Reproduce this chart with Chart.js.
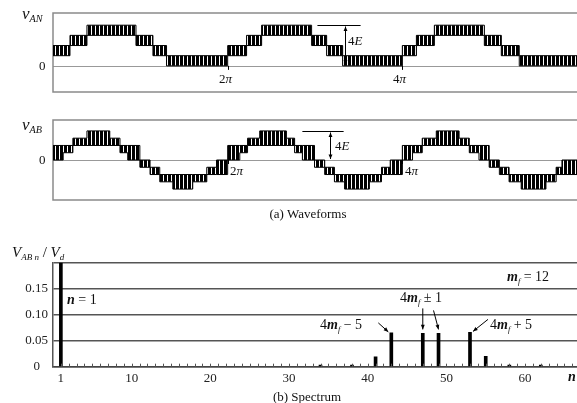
<!DOCTYPE html>
<html>
<head>
<meta charset="utf-8">
<script src="https://cdn.jsdelivr.net/npm/chart.js"></script>
<style>
  html, body { margin: 0; padding: 0; background: #fff; }
  body { position: relative; width: 577px; height: 403px; overflow: hidden; }
  canvas { position: absolute; left: 0; }
  .note { position: absolute; line-height: 1; white-space: nowrap; font-family: "Liberation Serif", serif; color: #111; }
  .note sub { font-size: 0.6em; vertical-align: -0.3em; }
</style>
</head>
<body>
<canvas id="an" width="577" height="100" style="top:0px"></canvas>
<canvas id="ab" width="577" height="100" style="top:110px"></canvas>
<canvas id="spec" width="577" height="178" style="top:225px"></canvas>
<script>
// v_AN: band start angles (deg), and the two levels (in E) it chops between
const anEdges = [0, 35, 70, 171, 206, 234,
                 360, 399, 430, 533, 564, 597,
                 720, 749, 786, 889, 924, 961, 1080];
const anLow  = [1, 2, 3, 2, 1, 0,  1, 2, 3, 2, 1, 0,  1, 2, 3, 2, 1, 0];
const anHigh = [2, 3, 4, 3, 2, 1,  2, 3, 4, 3, 2, 1,  2, 3, 4, 3, 2, 1];

// v_AB, same idea
const abEdges = [0, 21, 41, 70, 117, 138, 154, 179, 200, 220, 247, 288, 317, 337,
                 360, 385, 401, 426, 481, 498, 514, 539, 560, 580, 601, 652, 677, 695,
                 720, 741, 761, 790, 837, 858, 878, 899, 920, 940, 965, 1016, 1037, 1049, 1080];
const abLow  = [0, 1, 2, 2, 2, 1, 0, -1, -2, -3, -4, -3, -2, -2,
                0, 1, 2, 2, 2, 1, 0, -1, -2, -3, -4, -3, -2, -2,
                0, 1, 2, 2, 2, 1, 0, -1, -2, -3, -4, -3, -2, -2];
const abHigh = [2, 2, 3, 4, 3, 2, 2, 0, -1, -2, -2, -2, -1, 0,
                2, 2, 3, 4, 3, 2, 2, 0, -1, -2, -2, -2, -1, 0,
                2, 2, 3, 4, 3, 2, 2, 0, -1, -2, -2, -2, -1, 0];

// spectrum
const harmonicN   = [1, 34, 38, 41, 43, 47, 49, 53, 55, 58, 62];
const harmonicMag = [0.2, 0.003, 0.003, 0.019, 0.065, 0.064, 0.064, 0.066, 0.02, 0.003, 0.003];
const nTicks   = [1, 10, 20, 30, 40, 50, 60];
const magTicks = [0, 0.05, 0.1, 0.15, 0.2];

const serif = "'Liberation Serif', 'Times New Roman', serif";

function stripes() {
  const c = document.createElement('canvas');
  c.width = 4; c.height = 4;
  const g = c.getContext('2d');
  g.fillStyle = '#000';
  g.fillRect(0, 0, 3, 4);
  return g.createPattern(c, 'repeat');
}

function steps(edges, levels) {
  const pts = levels.map((v, i) => ({ x: edges[i], y: v }));
  pts.push({ x: edges[edges.length - 1], y: levels[levels.length - 1] });
  return pts;
}

function arrow(ctx, x1, y1, x2, y2, both) {
  const a = Math.atan2(y2 - y1, x2 - x1), h = 5;
  ctx.beginPath();
  ctx.moveTo(x1, y1); ctx.lineTo(x2, y2);
  ctx.stroke();
  const head = (x, y, ang) => {
    ctx.beginPath();
    ctx.moveTo(x, y);
    ctx.lineTo(x - h * Math.cos(ang - 0.4), y - h * Math.sin(ang - 0.4));
    ctx.lineTo(x - h * Math.cos(ang + 0.4), y - h * Math.sin(ang + 0.4));
    ctx.closePath();
    ctx.fill();
  };
  head(x2, y2, a);
  if (both) head(x1, y1, a + Math.PI);
}

// frame, zero line, 2pi/4pi ticks and the 4E marker
const wavePlugin = {
  id: 'wave',
  beforeDatasetsDraw(chart, args, opts) {
    const { ctx, chartArea: a, scales: { x, y } } = chart;
    ctx.save();
    ctx.strokeStyle = '#999';
    ctx.lineWidth = 1;
    const y0 = Math.round(y.getPixelForValue(0)) + 0.5;
    ctx.beginPath(); ctx.moveTo(a.left, y0); ctx.lineTo(a.right, y0); ctx.stroke();
    ctx.strokeStyle = '#8a8a8a';
    ctx.lineWidth = 1.5;
    ctx.beginPath();
    ctx.moveTo(a.right + 2, a.top); ctx.lineTo(a.left, a.top);
    ctx.lineTo(a.left, a.bottom); ctx.lineTo(a.right + 2, a.bottom);
    ctx.stroke();
    ctx.restore();
  },
  afterDatasetsDraw(chart, args, opts) {
    const { ctx, scales: { x, y } } = chart;
    ctx.save();
    ctx.strokeStyle = '#000';
    ctx.fillStyle = '#000';
    ctx.lineWidth = 1;
    const y0 = y.getPixelForValue(0);
    [360, 720].forEach(d => {
      const px = Math.round(x.getPixelForValue(d)) + 0.5;
      ctx.beginPath(); ctx.moveTo(px, y0); ctx.lineTo(px, y0 + 4); ctx.stroke();
    });
    const yt = Math.round(y.getPixelForValue(4)) + 0.5;
    ctx.beginPath();
    ctx.moveTo(x.getPixelForValue(opts.mark[0]), yt);
    ctx.lineTo(x.getPixelForValue(opts.mark[1]), yt);
    ctx.stroke();
    const xa = Math.round(x.getPixelForValue(opts.mark[2])) + 0.5;
    arrow(ctx, xa, yt + 1, xa, y0 - 1, true);
    ctx.restore();
  }
};

function waveChart(id, edges, low, high, yMin, yMax, pad, mark) {
  const fillPat = stripes();
  return new Chart(document.getElementById(id), {
    type: 'line',
    data: {
      datasets: [
        { data: steps(edges, low), stepped: true, borderColor: '#000', borderWidth: 1,
          pointRadius: 0, fill: false },
        { data: steps(edges, high), stepped: true, borderColor: '#000', borderWidth: 1,
          pointRadius: 0, fill: '-1', backgroundColor: fillPat }
      ]
    },
    options: {
      responsive: false,
      animation: false,
      layout: { padding: pad },
      plugins: { legend: { display: false }, tooltip: { enabled: false }, wave: { mark } },
      scales: {
        x: { type: 'linear', min: 0, max: 1080, display: false },
        y: { min: yMin, max: yMax, display: false }
      }
    },
    plugins: [wavePlugin]
  });
}

waveChart('an', anEdges, anLow, anHigh, -2.57, 5.2,
  { left: 53, top: 13, right: 0, bottom: 8 }, [545, 634, 601]);
waveChart('ab', abEdges, abLow, abHigh, -5.5, 5.5,
  { left: 53, top: 10, right: 0, bottom: 10 }, [514, 599, 570]);

// minor ticks on the n axis + the arrows pointing at the sidebands
const specPlugin = {
  id: 'specDecor',
  afterDatasetsDraw(chart) {
    const { ctx, scales: { x, y } } = chart;
    const y0 = y.getPixelForValue(0);
    ctx.save();
    ctx.strokeStyle = '#555';
    ctx.lineWidth = 1;
    for (let n = 1; n <= 66; n++) {
      const px = Math.round(x.getPixelForValue(n)) + 0.5;
      ctx.beginPath(); ctx.moveTo(px, y0); ctx.lineTo(px, y0 - 3); ctx.stroke();
    }
    ctx.strokeStyle = '#000';
    ctx.fillStyle = '#000';
    const top = n => y.getPixelForValue(harmonicMag[harmonicN.indexOf(n)]);
    const px = n => x.getPixelForValue(n);
    arrow(ctx, px(43) - 13, top(43) - 10, px(43) - 3, top(43) - 1);
    arrow(ctx, px(47), top(47) - 25, px(47), top(47) - 4);
    arrow(ctx, px(49) - 5, top(49) - 23, px(49), top(49) - 4);
    arrow(ctx, px(53) + 18, top(53) - 13, px(53) + 3, top(53) - 1);
    ctx.restore();
  }
};

new Chart(document.getElementById('spec'), {
  type: 'bar',
  data: {
    datasets: [{
      data: harmonicN.map((n, i) => ({ x: n, y: harmonicMag[i] })),
      backgroundColor: '#000',
      barThickness: 3
    }]
  },
  options: {
    responsive: false,
    animation: false,
    layout: { padding: { left: 0, top: 37.7, right: 0, bottom: 6 } },
    plugins: { legend: { display: false }, tooltip: { enabled: false } },
    scales: {
      x: {
        type: 'linear', min: 0, max: 66.6, offset: false,
        grid: { display: false, drawTicks: false },
        border: { color: '#444', width: 1.5 },
        afterBuildTicks: s => { s.ticks = nTicks.map(v => ({ value: v })); },
        afterFit: s => { s.height = 30.3; },
        ticks: { font: { family: serif, size: 13 }, color: '#222', padding: 4,
                 autoSkip: false, maxRotation: 0 }
      },
      y: {
        min: 0, max: 0.2,
        afterBuildTicks: s => { s.ticks = magTicks.map(v => ({ value: v })); },
        afterFit: s => { s.width = 53; },
        grid: { color: '#555', lineWidth: 1.5, drawTicks: false },
        border: { color: '#555', width: 1.5 },
        ticks: {
          font: { family: serif, size: 13 }, color: '#222', padding: 5, crossAlign: 'center',
          callback: v => v === 0 ? '0' : (v >= 0.2 ? '' : v.toFixed(2))
        }
      }
    }
  },
  plugins: [specPlugin]
});

// text labels
function note(x, base, html, size, center) {
  const d = document.createElement('div');
  d.className = 'note';
  d.style.fontSize = size + 'px';
  d.style.top = (base - size * 0.84) + 'px';
  d.style.left = x + 'px';
  if (center) d.style.transform = 'translateX(-50%)';
  d.innerHTML = html;
  document.body.appendChild(d);
}
note(22, 19, '<i>v</i><sub><i>AN</i></sub>', 17);
note(39, 70, '0', 13);
note(219, 83, '2<i>π</i>', 13);
note(393, 83, '4<i>π</i>', 13);
note(348, 45, '4<i>E</i>', 13);
note(22, 130, '<i>v</i><sub><i>AB</i></sub>', 17);
note(39, 164, '0', 13);
note(230, 175, '2<i>π</i>', 13);
note(405, 175, '4<i>π</i>', 13);
note(335, 150, '4<i>E</i>', 13);
note(308, 218, '(a) Waveforms', 13, true);
note(12, 258, '<i>V</i><sub><i>AB n</i></sub> / <i>V</i><sub><i>d</i></sub>', 15);
note(67, 305, '<b><i>n</i></b> = 1', 14);
note(507, 282, '<b><i>m</i></b><sub><i>f</i></sub> = 12', 14);
note(400, 303, '4<b><i>m</i></b><sub><i>f</i></sub> ± 1', 14);
note(320, 330, '4<b><i>m</i></b><sub><i>f</i></sub> − 5', 14);
note(490, 330, '4<b><i>m</i></b><sub><i>f</i></sub> + 5', 14);
note(568, 382, '<b><i>n</i></b>', 14);
note(307, 401, '(b) Spectrum', 13, true);
</script>
</body>
</html>
